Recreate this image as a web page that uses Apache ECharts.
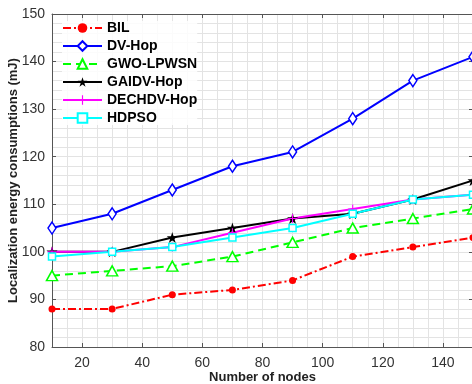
<!DOCTYPE html>
<html>
<head>
<meta charset="utf-8">
<script src="https://cdn.jsdelivr.net/npm/echarts@6/dist/echarts.min.js"></script>
<style>
  html, body { margin: 0; padding: 0; background: #fff; }
  #main { width: 472px; height: 384px; }
</style>
</head>
<body>
<div id="main"></div>
<script>
var nodes = [10, 30, 50, 70, 90, 110, 130, 150];
var xTicks = [20, 40, 60, 80, 100, 120, 140];

var bil = [88, 88, 91, 92, 94, 99, 101, 103];
var dvHop = [105, 108, 113, 118, 121, 128, 136, 141];
var gwoLpwsn = [95, 96, 97, 99, 102, 105, 107, 109];
var gaidvHop = [100, 100, 103, 105, 107, 108, 111, 115];
var dechdvHop = [100, 100, 101, 104, 107, 109, 111, 112];
var hdpso = [99, 100, 101, 103, 105, 108, 111, 112];

function pairs(vals) {
  return nodes.map(function (x, i) { return [x, vals[i]]; });
}

var starPath = 'path://M50,0 L61.8,35.4 L99,35.4 L69.1,57.3 L80.9,92.7 L50,70.8 L19.1,92.7 L30.9,57.3 L1,35.4 L38.2,35.4 Z';
var plusPath = 'path://M44,0 L56,0 L56,44 L100,44 L100,56 L56,56 L56,100 L44,100 L44,56 L0,56 L0,44 L44,44 Z';

var axisColor = '#555';
var gridColor = '#e3e3e3';
var font = 'Liberation Sans, Arial, Helvetica, sans-serif';

var myChart = echarts.init(document.getElementById('main'));

function line(name, vals, color, symbol, size, dash, hollow) {
  return {
    name: name,
    type: 'line',
    data: pairs(vals),
    symbol: symbol,
    symbolSize: size,
    lineStyle: { color: color, width: 2, type: dash },
    itemStyle: hollow
      ? { color: '#fff', borderColor: color, borderWidth: 1.5 }
      : { color: color, borderColor: color, borderWidth: 0 },
    emphasis: { disabled: true },
    z: 3
  };
}

var option = {
  animation: false,
  backgroundColor: '#fff',
  grid: { left: 52, right: -1, top: 14, bottom: 37, outerBoundsMode: 'none', containLabel: false },
  legend: {
    orient: 'vertical',
    left: 62,
    top: 21,
    padding: 0,
    itemWidth: 39,
    itemHeight: 12,
    itemGap: 4,
    backgroundColor: 'rgba(255,255,255,0.85)',
    textStyle: { fontFamily: font, fontSize: 14, fontWeight: 'bold', color: '#000', lineHeight: 14 },
    data: ['BIL', 'DV-Hop', 'GWO-LPWSN', 'GAIDV-Hop', 'DECHDV-Hop', 'HDPSO']
  },
  xAxis: [
    {
      type: 'value', position: 'bottom', min: 10, max: 150, interval: 5,
      name: 'Number of nodes', nameLocation: 'middle', nameGap: 24, nameMoveOverlap: false,
      nameTextStyle: { fontFamily: font, fontSize: 13, fontWeight: 'bold', color: '#222' },
      axisLine: { show: true, lineStyle: { color: axisColor, width: 1 } },
      axisTick: { show: false },
      axisLabel: { customValues: xTicks, fontFamily: font, fontSize: 14, color: '#333', margin: 9 },
      splitLine: { show: true, lineStyle: { color: gridColor, width: 1 } }
    },
    {
      type: 'value', position: 'bottom', min: 10, max: 150,
      axisLine: { show: false },
      axisTick: { show: true, inside: true, length: 4, customValues: xTicks, lineStyle: { color: axisColor } },
      axisLabel: { show: false },
      splitLine: { show: false }
    },
    {
      type: 'value', position: 'top', min: 10, max: 150,
      axisLine: { show: true, lineStyle: { color: axisColor, width: 1 } },
      axisTick: { show: true, inside: true, length: 4, customValues: xTicks, lineStyle: { color: axisColor } },
      axisLabel: { show: false },
      splitLine: { show: false }
    }
  ],
  yAxis: [
    {
      type: 'value', position: 'left', min: 80, max: 150, interval: 10,
      name: 'Localization energy consumptions (mJ)', nameLocation: 'middle', nameGap: 32, nameMoveOverlap: false,
      nameTextStyle: { fontFamily: font, fontSize: 13, fontWeight: 'bold', color: '#222' },
      axisLine: { show: true, lineStyle: { color: axisColor, width: 1 } },
      axisTick: { show: true, inside: true, length: 4, lineStyle: { color: axisColor } },
      axisLabel: { fontFamily: font, fontSize: 14, color: '#333', margin: 7 },
      splitLine: { show: true, lineStyle: { color: gridColor, width: 1 } },
      minorTick: { show: false, splitNumber: 5 },
      minorSplitLine: { show: true, lineStyle: { color: gridColor, width: 1 } }
    },
    {
      type: 'value', position: 'right', min: 80, max: 150, interval: 10,
      axisLine: { show: true, lineStyle: { color: axisColor, width: 1 } },
      axisTick: { show: true, inside: true, length: 4, lineStyle: { color: axisColor } },
      axisLabel: { show: false },
      splitLine: { show: false }
    }
  ],
  series: [
    line('BIL', bil, '#ff0000', 'circle', 7, [8, 3, 2, 3], false),
    line('DV-Hop', dvHop, '#0000ff', 'diamond', [8, 12], 'solid', true),
    line('GWO-LPWSN', gwoLpwsn, '#00ff00', 'triangle', [11, 10], [8, 5], true),
    line('GAIDV-Hop', gaidvHop, '#000000', starPath, 11, 'solid', false),
    line('DECHDV-Hop', dechdvHop, '#ff00ff', plusPath, 9, 'solid', false),
    line('HDPSO', hdpso, '#00ffff', 'rect', 7, 'solid', true)
  ]
};

myChart.setOption(option);
</script>
</body>
</html>
